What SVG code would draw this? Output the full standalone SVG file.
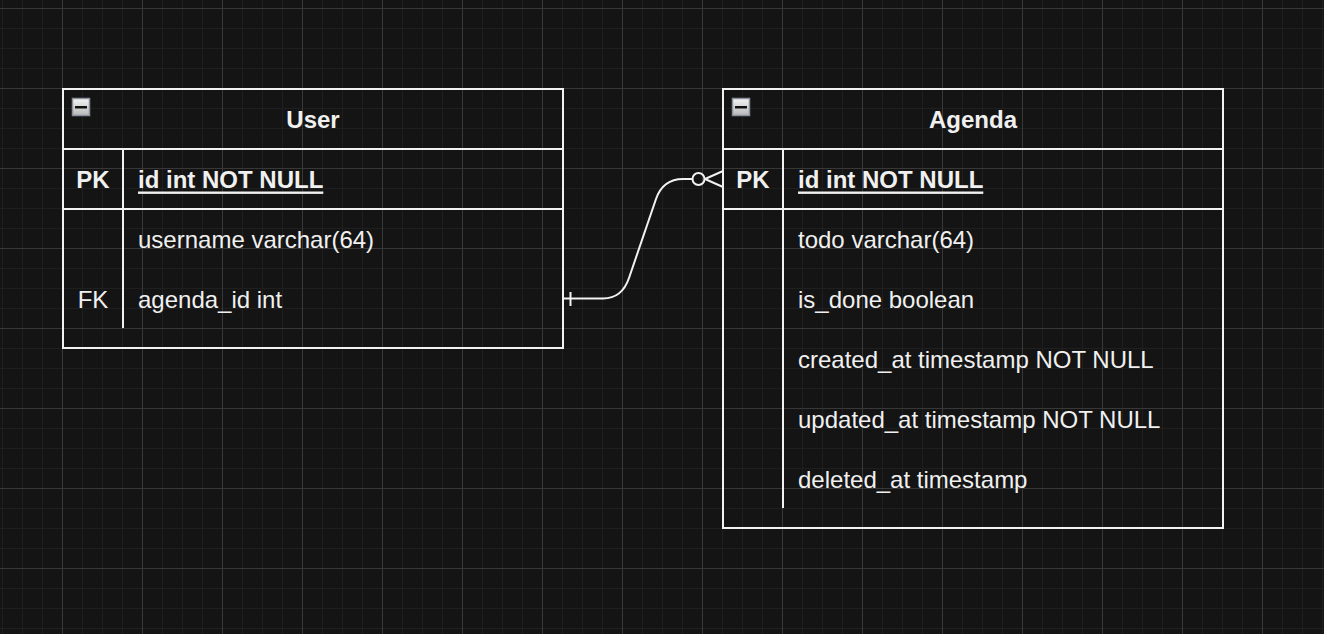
<svg xmlns="http://www.w3.org/2000/svg" width="1324" height="634" viewBox="0 0 1324 634">
  <defs>
    <pattern id="grid" patternUnits="userSpaceOnUse" x="62" y="8" width="80" height="80">
      <rect x="0" y="0" width="80" height="80" fill="#141414"/>
      <rect x="20" y="0" width="1" height="80" fill="#1f1f1f"/>
      <rect x="40" y="0" width="1" height="80" fill="#1f1f1f"/>
      <rect x="60" y="0" width="1" height="80" fill="#1f1f1f"/>
      <rect x="0" y="20" width="80" height="1" fill="#1f1f1f"/>
      <rect x="0" y="40" width="80" height="1" fill="#1f1f1f"/>
      <rect x="0" y="60" width="80" height="1" fill="#1f1f1f"/>
      <rect x="0" y="0" width="1" height="80" fill="#383838"/>
      <rect x="0" y="0" width="80" height="1" fill="#383838"/>
    </pattern>
    <linearGradient id="btn" x1="0" y1="0" x2="0" y2="1">
      <stop offset="0" stop-color="#f4f4f4"/>
      <stop offset="1" stop-color="#b8b8b8"/>
    </linearGradient>
    <g id="collapse">
      <rect x="0.5" y="0.5" width="17" height="17" fill="url(#btn)" stroke="#8a909c" stroke-width="1.5"/>
      <rect x="3" y="8" width="12" height="2.5" fill="#111"/>
    </g>
  </defs>
  <style>
    .box { fill: none; stroke: #f2f2f2; stroke-width: 2; }
    .ln { stroke: #f2f2f2; stroke-width: 2; fill: none; }
    text { font-family: "Liberation Sans", Arial, sans-serif; font-size: 24px; fill: #f0f0f0; dominant-baseline: central; }
    .b { font-weight: bold; }
    .c { text-anchor: middle; }
    .u { text-decoration: underline; }
    .edge { stroke: #f2f2f2; stroke-width: 2; fill: none; }
  </style>
  <rect width="1324" height="634" fill="url(#grid)"/>

  <g id="user">
    <rect class="box" x="63" y="89" width="500" height="259"/>
    <line class="ln" x1="63" y1="149" x2="563" y2="149"/>
    <line class="ln" x1="63" y1="209" x2="563" y2="209"/>
    <line class="ln" x1="123" y1="149" x2="123" y2="328"/>
    <use href="#collapse" x="72" y="98"/>
    <text class="b c" x="313" y="119">User</text>
    <text class="b c" x="93" y="179">PK</text>
    <text class="b u" x="138" y="179">id int NOT NULL</text>
    <text x="138" y="239">username varchar(64)</text>
    <text class="c" x="93" y="299">FK</text>
    <text x="138" y="299">agenda_id int</text>
  </g>

  <g id="agenda">
    <rect class="box" x="723" y="89" width="500" height="439"/>
    <line class="ln" x1="723" y1="149" x2="1223" y2="149"/>
    <line class="ln" x1="723" y1="209" x2="1223" y2="209"/>
    <line class="ln" x1="783" y1="149" x2="783" y2="508"/>
    <use href="#collapse" x="732" y="98"/>
    <text class="b c" x="973" y="119">Agenda</text>
    <text class="b c" x="753" y="179">PK</text>
    <text class="b u" x="798" y="179">id int NOT NULL</text>
    <text x="798" y="239">todo varchar(64)</text>
    <text x="798" y="299">is_done boolean</text>
    <text x="798" y="359">created_at timestamp NOT NULL</text>
    <text x="798" y="419">updated_at timestamp NOT NULL</text>
    <text x="798" y="479">deleted_at timestamp</text>
  </g>

  <g id="connectors">
    <path class="edge" d="M563,298.5 L603,298.5 Q622,298.5 629,278 L656,199 Q663,179 683,179 L692.5,179"/>
    <line class="edge" x1="570.5" y1="292" x2="570.5" y2="306"/>
    <circle class="edge" cx="698.5" cy="179" r="6"/>
    <line class="edge" x1="705" y1="179" x2="723" y2="171"/>
    <line class="edge" x1="705" y1="179" x2="723" y2="187"/>
  </g>
</svg>
